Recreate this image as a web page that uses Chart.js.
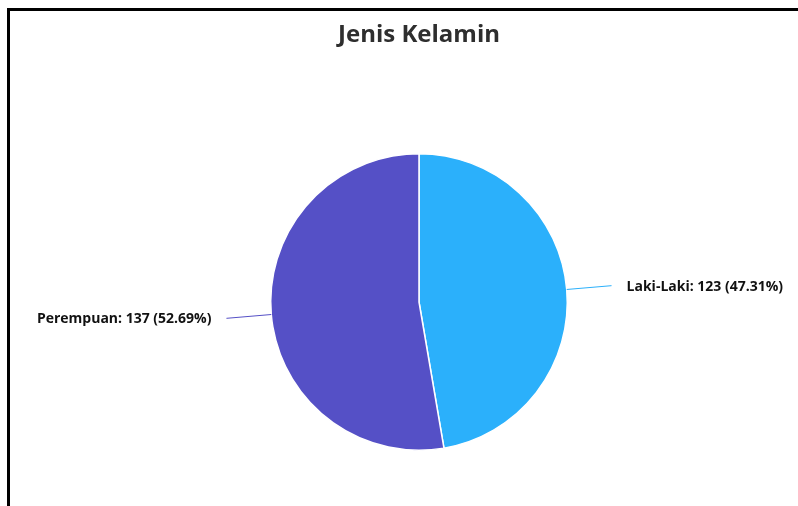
<!DOCTYPE html>
<html>
<head>
<meta charset="utf-8">
<script src="https://cdn.jsdelivr.net/npm/chart.js@4.4.1/dist/chart.umd.min.js"></script>
<style>
    html, body {
        margin: 0;
        padding: 0;
        background: #ffffff;
        width: 798px;
        height: 506px;
        overflow: hidden;
    }
    #frame {
        position: absolute;
        left: 7px;
        top: 8px;
        width: 791px;
        height: 498px;
        border-top: 3px solid #000;
        border-left: 3px solid #000;
        box-sizing: border-box;
    }
    #wrap {
        position: absolute;
        left: 0;
        top: 0;
        width: 798px;
        height: 506px;
    }
</style>
</head>
<body>
<div id="frame"></div>
<div id="wrap"><canvas id="genderChart"></canvas></div>
<script>
/* ---------------- Data ---------------- */

const categories = ["Laki-Laki", "Perempuan"];
const counts = [123, 137];
const sliceColors = ["#2bb0fb", "#5550c6"];
const chartTitle = "Jenis Kelamin";

/* ---------------- Outside labels ---------------- */

const outsideLabels = {
    id: "outsideLabels",
    afterDatasetsDraw(chart) {
        const ctx = chart.ctx;
        const meta = chart.getDatasetMeta(0);
        const data = chart.data.datasets[0].data;
        const total = data.reduce((a, b) => a + b, 0);

        meta.data.forEach((arc, i) => {
            const p = arc.getProps(["x", "y", "startAngle", "endAngle", "outerRadius"], true);
            const mid = (p.startAngle + p.endAngle) / 2;
            const cos = Math.cos(mid);
            const sin = Math.sin(mid);

            const x1 = p.x + cos * p.outerRadius;
            const y1 = p.y + sin * p.outerRadius;
            const x2 = p.x + cos * (p.outerRadius + 45);
            const y2 = p.y + sin * (p.outerRadius + 45);

            ctx.save();
            ctx.strokeStyle = sliceColors[i];
            ctx.lineWidth = 1;
            ctx.beginPath();
            ctx.moveTo(x1, y1);
            ctx.lineTo(x2, y2);
            ctx.stroke();

            const pct = (data[i] / total * 100).toFixed(2);
            const text = `${chart.data.labels[i]}: ${data[i]} (${pct}%)`;

            ctx.font = "bold 14px 'Open Sans'";
            ctx.fillStyle = "#111111";
            ctx.textBaseline = "middle";
            if (cos >= 0) {
                ctx.textAlign = "left";
                ctx.fillText(text, x2 + 15, y2 + 1);
            } else {
                ctx.textAlign = "right";
                ctx.fillText(text, x2 - 15, y2 + 1);
            }
            ctx.restore();
        });
    }
};

/* ---------------- Chart ---------------- */

new Chart(
    document.getElementById("genderChart"),
    {
        type: "pie",
        data: {
            labels: categories,
            datasets: [
                {
                    data: counts,
                    backgroundColor: sliceColors,
                    borderColor: "#ffffff",
                    borderWidth: 1.5
                }
            ]
        },
        options: {
            responsive: true,
            maintainAspectRatio: false,
            animation: false,
            layout: {
                padding: { left: 120, right: 80, top: 0, bottom: 55 }
            },
            plugins: {
                legend: { display: false },
                tooltip: { enabled: false },
                title: {
                    display: true,
                    text: chartTitle,
                    color: "#2e2e2e",
                    font: { family: "'Open Sans'", size: 24, weight: "bold", lineHeight: 1.2 },
                    padding: { top: 21, bottom: 103.2 }
                }
            }
        },
        plugins: [outsideLabels]
    }
);
</script>
</body>
</html>
